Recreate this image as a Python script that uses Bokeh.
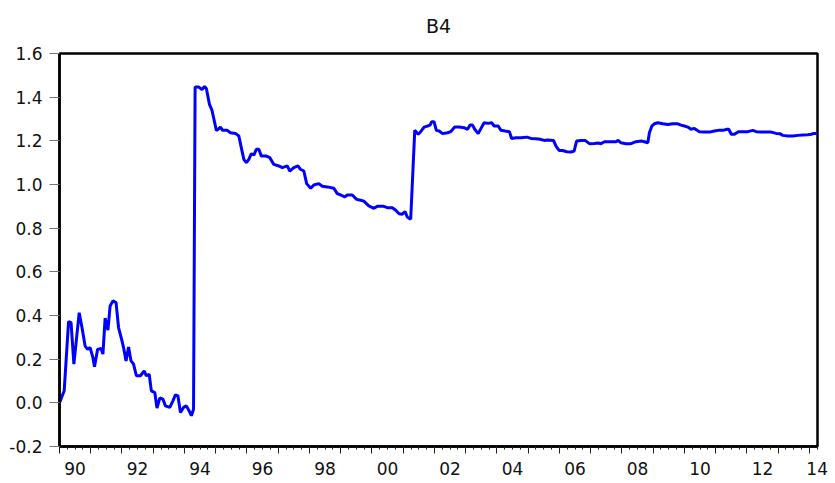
from bokeh.plotting import figure
from bokeh.models import LinearAxis, FixedTicker, Range1d, NumeralTickFormatter, CustomJSTickFormatter, ColumnDataSource
from bokeh.embed import file_html
from bokeh.resources import INLINE

# ---- data (decimal year, value of B4) ----
dates = [
    1990.00, 1990.15, 1990.29, 1990.37, 1990.46, 1990.63, 1990.72, 1990.82, 1990.90, 1990.98,
    1991.07, 1991.12, 1991.22, 1991.33, 1991.39, 1991.46, 1991.55, 1991.62, 1991.71, 1991.81,
    1991.89, 1992.00, 1992.05, 1992.13, 1992.21, 1992.29, 1992.37, 1992.46, 1992.59, 1992.71,
    1992.78, 1992.87, 1992.94, 1993.05, 1993.12, 1993.21, 1993.31, 1993.39, 1993.53, 1993.63,
    1993.71, 1993.79, 1993.87, 1993.97, 1994.06, 1994.15, 1994.22, 1994.29,
    1994.34, 1994.46, 1994.56, 1994.64, 1994.70, 1994.80, 1994.88, 1995.02, 1995.08, 1995.15,
    1995.22, 1995.37, 1995.47, 1995.63, 1995.74, 1995.82, 1995.90, 1995.98, 1996.06, 1996.14,
    1996.22, 1996.30, 1996.38, 1996.46, 1996.62, 1996.73, 1996.86, 1997.02, 1997.13, 1997.29,
    1997.37, 1997.50, 1997.63, 1997.71, 1997.82, 1997.91, 1998.04, 1998.14, 1998.30, 1998.41,
    1998.57, 1998.78, 1998.89, 1999.00, 1999.13, 1999.21, 1999.37, 1999.51, 1999.64, 1999.74,
    1999.90, 2000.06, 2000.17, 2000.38, 2000.49, 2000.65, 2000.76, 2000.87, 2000.97, 2001.06,
    2001.13, 2001.24, 2001.37, 2001.48, 2001.56, 2001.67, 2001.78, 2001.86, 2001.91, 2001.99,
    2002.06, 2002.15, 2002.26, 2002.42, 2002.52, 2002.65, 2002.79, 2002.95, 2003.06, 2003.14,
    2003.22, 2003.29, 2003.40, 2003.49, 2003.59, 2003.72, 2003.83, 2003.91, 2004.04, 2004.13,
    2004.26, 2004.40, 2004.47, 2004.61, 2004.77, 2004.96, 2005.09, 2005.25, 2005.38, 2005.51,
    2005.62, 2005.81, 2005.89, 2005.99, 2006.10, 2006.24, 2006.37, 2006.47, 2006.55, 2006.69,
    2006.82, 2006.96, 2007.12, 2007.24, 2007.33, 2007.44, 2007.65, 2007.81, 2007.88, 2007.97,
    2008.13, 2008.29, 2008.45, 2008.62, 2008.72, 2008.83, 2008.88, 2008.96, 2009.04, 2009.15,
    2009.31, 2009.47, 2009.63, 2009.79, 2009.89, 2010.00, 2010.11, 2010.21, 2010.32, 2010.48,
    2010.64, 2010.80, 2010.96, 2011.12, 2011.23, 2011.37, 2011.42, 2011.50, 2011.60, 2011.73,
    2011.87, 2012.03, 2012.19, 2012.30, 2012.46, 2012.62, 2012.78, 2012.94, 2013.05, 2013.15,
    2013.31, 2013.47, 2013.63, 2013.79, 2013.95, 2014.06, 2014.15, 2014.25,
]
b4 = [
    0.000, 0.055, 0.372, 0.367, 0.177, 0.413, 0.345, 0.260, 0.245, 0.253,
    0.207, 0.165, 0.245, 0.249, 0.223, 0.388, 0.333, 0.444, 0.467, 0.459,
    0.345, 0.284, 0.253, 0.192, 0.256, 0.192, 0.177, 0.124, 0.124, 0.146,
    0.124, 0.131, 0.055, 0.047, -0.024, 0.022, 0.017, -0.014, -0.021, 0.009,
    0.037, 0.032, -0.044, -0.021, -0.014, -0.037, -0.059, -0.029,
    1.446, 1.446, 1.435, 1.449, 1.440, 1.367, 1.340, 1.248, 1.253, 1.263,
    1.248, 1.248, 1.237, 1.234, 1.222, 1.168, 1.115, 1.100, 1.115, 1.141,
    1.135, 1.161, 1.161, 1.130, 1.130, 1.123, 1.092, 1.085, 1.077, 1.085,
    1.062, 1.077, 1.085, 1.070, 1.062, 1.004, 0.983, 0.998, 1.004, 0.992,
    0.989, 0.983, 0.958, 0.952, 0.943, 0.952, 0.952, 0.932, 0.928, 0.924,
    0.902, 0.891, 0.900, 0.900, 0.894, 0.894, 0.882, 0.866, 0.864, 0.876,
    0.851, 0.841, 1.248, 1.230, 1.242, 1.263, 1.268, 1.272, 1.287, 1.287,
    1.248, 1.245, 1.233, 1.237, 1.242, 1.263, 1.263, 1.260, 1.253, 1.272,
    1.272, 1.253, 1.233, 1.257, 1.283, 1.280, 1.283, 1.268, 1.268, 1.248,
    1.245, 1.242, 1.211, 1.214, 1.214, 1.217, 1.211, 1.210, 1.207, 1.202,
    1.204, 1.202, 1.176, 1.156, 1.156, 1.150, 1.149, 1.153, 1.199, 1.202,
    1.202, 1.187, 1.188, 1.190, 1.187, 1.196, 1.196, 1.196, 1.202, 1.191,
    1.187, 1.187, 1.196, 1.199, 1.196, 1.191, 1.237, 1.268, 1.278, 1.283,
    1.278, 1.275, 1.278, 1.278, 1.272, 1.268, 1.263, 1.253, 1.257, 1.242,
    1.240, 1.240, 1.245, 1.249, 1.248, 1.253, 1.253, 1.230, 1.230, 1.242,
    1.242, 1.242, 1.248, 1.242, 1.240, 1.240, 1.240, 1.234, 1.233, 1.225,
    1.222, 1.222, 1.225, 1.227, 1.228, 1.230, 1.234, 1.234,
]

y_ticks = [-0.2, 0.0, 0.2, 0.4, 0.6, 0.8, 1.0, 1.2, 1.4, 1.6]
years = list(range(1990, 2015))
label_years = list(range(1990, 2015, 2))
title_text = "B4"

x_start, x_end = years[0], dates[-1] + 0.01
FONT = "DejaVu Sans"

p = figure(width=830, height=483, output_backend="svg", toolbar_location=None,
           x_range=Range1d(x_start, x_end), y_range=Range1d(y_ticks[0], y_ticks[-1]),
           x_axis_location=None, title=title_text,
           min_border_left=59, min_border_right=13, min_border_top=53, min_border_bottom=37)

p.grid.visible = False
p.background_fill_color = "white"
p.border_fill_color = "white"
p.outline_line_color = "black"
p.outline_line_width = 2.5

p.title.align = "center"
p.title.vertical_align = "top"
p.title.text_font = FONT
p.title.text_font_size = "19px"
p.title.text_font_style = "normal"
p.title.text_color = "#111111"
p.title.standoff = 29

# y axis
ya = p.yaxis[0]
ya.ticker = FixedTicker(ticks=y_ticks, minor_ticks=[])
ya.formatter = NumeralTickFormatter(format="0.0")
ya.axis_line_color = "black"
ya.axis_line_width = 2.5
ya.major_tick_out = 10
ya.major_tick_in = 0
ya.major_tick_line_color = "#777777"
ya.major_tick_line_width = 1
ya.minor_tick_line_color = None
ya.major_label_standoff = 7
ya.major_label_text_font = FONT
ya.major_label_text_font_size = "17px"
ya.major_label_text_color = "#111111"

# x axis: tick marks (years and quarters), no labels
quarter_ticks = [y + q / 4 for y in years for q in range(4) if y + q / 4 <= x_end]
xa_ticks = LinearAxis(ticker=FixedTicker(ticks=years, minor_ticks=quarter_ticks),
                      formatter=CustomJSTickFormatter(code="return ''"))
xa_ticks.axis_line_color = "black"
xa_ticks.axis_line_width = 2.5
xa_ticks.major_tick_out = 7
xa_ticks.major_tick_in = 0
xa_ticks.minor_tick_out = 3
xa_ticks.minor_tick_in = 0
xa_ticks.major_tick_line_color = "#222222"
xa_ticks.minor_tick_line_color = "#222222"
xa_ticks.major_label_text_font_size = "2px"
xa_ticks.major_label_standoff = 0
p.add_layout(xa_ticks, "below")

# x axis: labels centred in the year spans
label_pos = [min(y + 0.5, x_end - 0.01) for y in label_years]
xa_lab = LinearAxis(ticker=FixedTicker(ticks=label_pos, minor_ticks=[]),
                    formatter=CustomJSTickFormatter(code="return String(Math.floor(tick)).slice(-2)"))
xa_lab.axis_line_color = None
xa_lab.major_tick_line_color = None
xa_lab.minor_tick_line_color = None
xa_lab.major_tick_out = 0
xa_lab.major_tick_in = 0
xa_lab.major_label_standoff = 8
xa_lab.major_label_text_font = FONT
xa_lab.major_label_text_font_size = "17px"
xa_lab.major_label_text_color = "#111111"
p.add_layout(xa_lab, "below")

src = ColumnDataSource(dict(x=dates, y=b4))
p.line("x", "y", source=src, line_color="#0000FF", line_width=3)

open("out.html", "w").write(file_html(p, INLINE))
